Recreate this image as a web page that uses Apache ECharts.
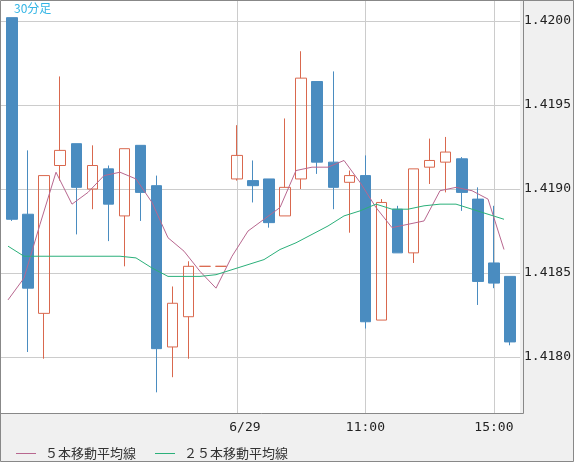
<!DOCTYPE html>
<html>
<head>
<meta charset="utf-8">
<script src="https://cdn.jsdelivr.net/npm/echarts@6/dist/echarts.min.js"></script>
<style>
  html, body { margin: 0; padding: 0; background: #fff; }
  #chart { width: 574px; height: 462px; }
</style>
</head>
<body>
<div id="chart"></div>
<script>
// 30分足のカテゴリ
const categories = [
  '6/27 00:00', '6/27 00:30', '6/27 01:00', '6/27 01:30', '6/27 02:00', '6/27 02:30', '6/27 03:00',
  '6/27 03:30', '6/27 04:00', '6/27 04:30', '6/27 05:00', '6/27 05:30', '6/27 06:00', '6/27 06:30',
  '6/29 07:00', '6/29 07:30', '6/29 08:00', '6/29 08:30', '6/29 09:00', '6/29 09:30', '6/29 10:00',
  '6/29 10:30', '6/29 11:00', '6/29 11:30', '6/29 12:00', '6/29 12:30', '6/29 13:00', '6/29 13:30',
  '6/29 14:00', '6/29 14:30', '6/29 15:00', '6/29 15:30'
];
// 横軸に表示するラベル
const tickLabels = { '6/29 07:00': '6/29', '6/29 11:00': '11:00', '6/29 15:00': '15:00' };

// 四本値
const opens = [
  1.42002, 1.41885, 1.41826, 1.41914, 1.41927, 1.41900, 1.41912, 1.41884, 1.41926, 1.41902, 1.41806,
  1.41824, 1.41854, 1.41854, 1.41906, 1.41905, 1.41906, 1.41884, 1.41906, 1.41964, 1.41916, 1.41904,
  1.41908, 1.41822, 1.41888, 1.41862, 1.41913, 1.41916, 1.41918, 1.41894, 1.41856, 1.41848
];
const closes = [
  1.41882, 1.41841, 1.41908, 1.41923, 1.41901, 1.41914, 1.41891, 1.41924, 1.41898, 1.41805, 1.41832,
  1.41854, 1.41854, 1.41854, 1.41920, 1.41902, 1.41880, 1.41901, 1.41966, 1.41916, 1.41901, 1.41908,
  1.41821, 1.41892, 1.41862, 1.41912, 1.41917, 1.41922, 1.41898, 1.41845, 1.41844, 1.41809
];
const lows = [
  1.41881, 1.41803, 1.41799, 1.41905, 1.41873, 1.41888, 1.41869, 1.41854, 1.41881, 1.41779, 1.41788,
  1.41799, 1.41854, 1.41854, 1.41905, 1.41892, 1.41877, 1.41884, 1.41900, 1.41909, 1.41888, 1.41874,
  1.41817, 1.41822, 1.41862, 1.41856, 1.41903, 1.41898, 1.41887, 1.41831, 1.41841, 1.41807
];
const highs = [
  1.42002, 1.41923, 1.41908, 1.41967, 1.41927, 1.41926, 1.41914, 1.41924, 1.41926, 1.41908, 1.41842,
  1.41857, 1.41854, 1.41854, 1.41938, 1.41917, 1.41906, 1.41942, 1.41982, 1.41964, 1.41970, 1.41911,
  1.41920, 1.41894, 1.41890, 1.41912, 1.41930, 1.41931, 1.41919, 1.41901, 1.41890, 1.41848
];

// 移動平均線 (チャートから読み取った値)
const ma5 = [
  1.41834, 1.41847, 1.41879, 1.41910, 1.41891, 1.41898, 1.41908, 1.41910, 1.41906, 1.41892, 1.41871,
  1.41863, 1.41851, 1.41841, 1.41860, 1.41875, 1.41882, 1.41889, 1.41911, 1.41913, 1.41913, 1.41917,
  1.41904, 1.41889, 1.41877, 1.41879, 1.41881, 1.41899, 1.41901, 1.41899, 1.41894, 1.41864
];
const ma25 = [
  1.41866, 1.41860, 1.41860, 1.41860, 1.41860, 1.41860, 1.41860, 1.41860, 1.41859, 1.41853, 1.41848,
  1.41848, 1.41848, 1.41849, 1.41852, 1.41855, 1.41858, 1.41864, 1.41868, 1.41873, 1.41878, 1.41884,
  1.41887, 1.41891, 1.41888, 1.41888, 1.41890, 1.41891, 1.41891, 1.41888, 1.41885, 1.41882
];

const yMin = 1.417667;
const yMax = 1.420125;

const upColor = '#d9684e';
const downColor = '#4a8cc0';
const gridColor = '#cccccc';
const frameColor = '#888888';
const monoFont = 'DejaVu Sans Mono';

const chart = echarts.init(document.getElementById('chart'));

const hiddenY = (idx) => ({
  type: 'value', gridIndex: idx, min: yMin, max: yMax, show: false, splitLine: { show: false }
});

const option = {
  animation: false,
  backgroundColor: '#f0f0f0',
  title: {
    text: '30分足',
    left: 14,
    top: 2,
    padding: 0,
    textStyle: { fontSize: 12, fontWeight: 'normal', color: '#33b5e5', fontFamily: 'Noto Sans CJK JP' }
  },
  legend: {
    left: 11,
    top: 442,
    icon: 'rect',
    itemWidth: 20,
    itemHeight: 1,
    itemGap: 19,
    data: ['５本移動平均線', '２５本移動平均線'],
    textStyle: { fontSize: 13, color: '#333', fontFamily: 'Noto Sans CJK JP', padding: [0, 0, 0, 4] }
  },
  grid: [
    // 背景と横の補助線
    { left: 0, top: 0, width: 523, height: 413, show: true, backgroundColor: '#fff', borderWidth: 0 },
    // ローソク足
    { left: 4, top: 0, width: 514, height: 413 },
    // 移動平均線 (ローソク足の左端に合わせる)
    { left: -2, top: 0, width: 514, height: 413 }
  ],
  xAxis: [
    { type: 'value', gridIndex: 0, show: false, splitLine: { show: false } },
    {
      type: 'category',
      gridIndex: 1,
      data: categories,
      boundaryGap: true,
      axisLine: { show: false },
      axisTick: { show: false },
      splitLine: { show: false },
      axisLabel: {
        margin: 8,
        interval: (idx, val) => val in tickLabels,
        formatter: (val) => (tickLabels[val] === '6/29' ? '{d|6/29}' : tickLabels[val]),
        fontFamily: monoFont,
        fontSize: 13,
        color: '#222',
        rich: {
          d: { padding: [0, 0, 0, 16], fontFamily: monoFont, fontSize: 13, color: '#222' }
        }
      }
    },
    { type: 'category', gridIndex: 2, data: categories, boundaryGap: true, show: false }
  ],
  yAxis: [
    {
      type: 'value',
      gridIndex: 0,
      position: 'right',
      min: yMin,
      max: yMax,
      splitNumber: 5,
      axisLine: { show: false },
      axisTick: { show: false },
      splitLine: { show: true, showMinLine: false, showMaxLine: false, lineStyle: { color: gridColor, width: 1 } },
      axisLabel: {
        margin: 4,
        showMinLabel: false,
        showMaxLabel: false,
        formatter: (v) => v.toFixed(4),
        fontFamily: monoFont,
        fontSize: 13,
        color: '#222'
      }
    },
    hiddenY(1),
    hiddenY(2)
  ],
  series: [
    {
      type: 'candlestick',
      xAxisIndex: 1,
      yAxisIndex: 1,
      barWidth: 11,
      data: categories.map((c, i) => [opens[i], closes[i], lows[i], highs[i]]),
      itemStyle: {
        color: 'transparent',
        color0: downColor,
        borderColor: upColor,
        borderColor0: downColor,
        borderColorDoji: upColor,
        borderWidth: 1
      },
      markLine: {
        z: 1,
        silent: true,
        symbol: 'none',
        label: { show: false },
        lineStyle: { color: gridColor, width: 1, type: 'solid' },
        emphasis: { disabled: true },
        data: Object.keys(tickLabels).map((k) => ({ xAxis: k }))
      }
    },
    {
      name: '５本移動平均線',
      type: 'line',
      xAxisIndex: 2,
      yAxisIndex: 2,
      data: ma5,
      color: '#b8678f',
      symbol: 'none',
      lineStyle: { width: 1, color: '#b8678f' }
    },
    {
      name: '２５本移動平均線',
      type: 'line',
      xAxisIndex: 2,
      yAxisIndex: 2,
      data: ma25,
      color: '#2bb07a',
      symbol: 'none',
      lineStyle: { width: 1, color: '#2bb07a' }
    }
  ],
  graphic: [
    { type: 'rect', z: 100, silent: true, shape: { x: 0.5, y: 0.5, width: 573, height: 461 },
      style: { fill: 'none', stroke: frameColor, lineWidth: 1 } },
    { type: 'line', z: 100, silent: true, shape: { x1: 523.5, y1: 0, x2: 523.5, y2: 413.5 },
      style: { stroke: frameColor, lineWidth: 1 } },
    { type: 'line', z: 100, silent: true, shape: { x1: 0, y1: 413.5, x2: 523.5, y2: 413.5 },
      style: { stroke: frameColor, lineWidth: 1 } }
  ]
};

chart.setOption(option);
</script>
</body>
</html>
